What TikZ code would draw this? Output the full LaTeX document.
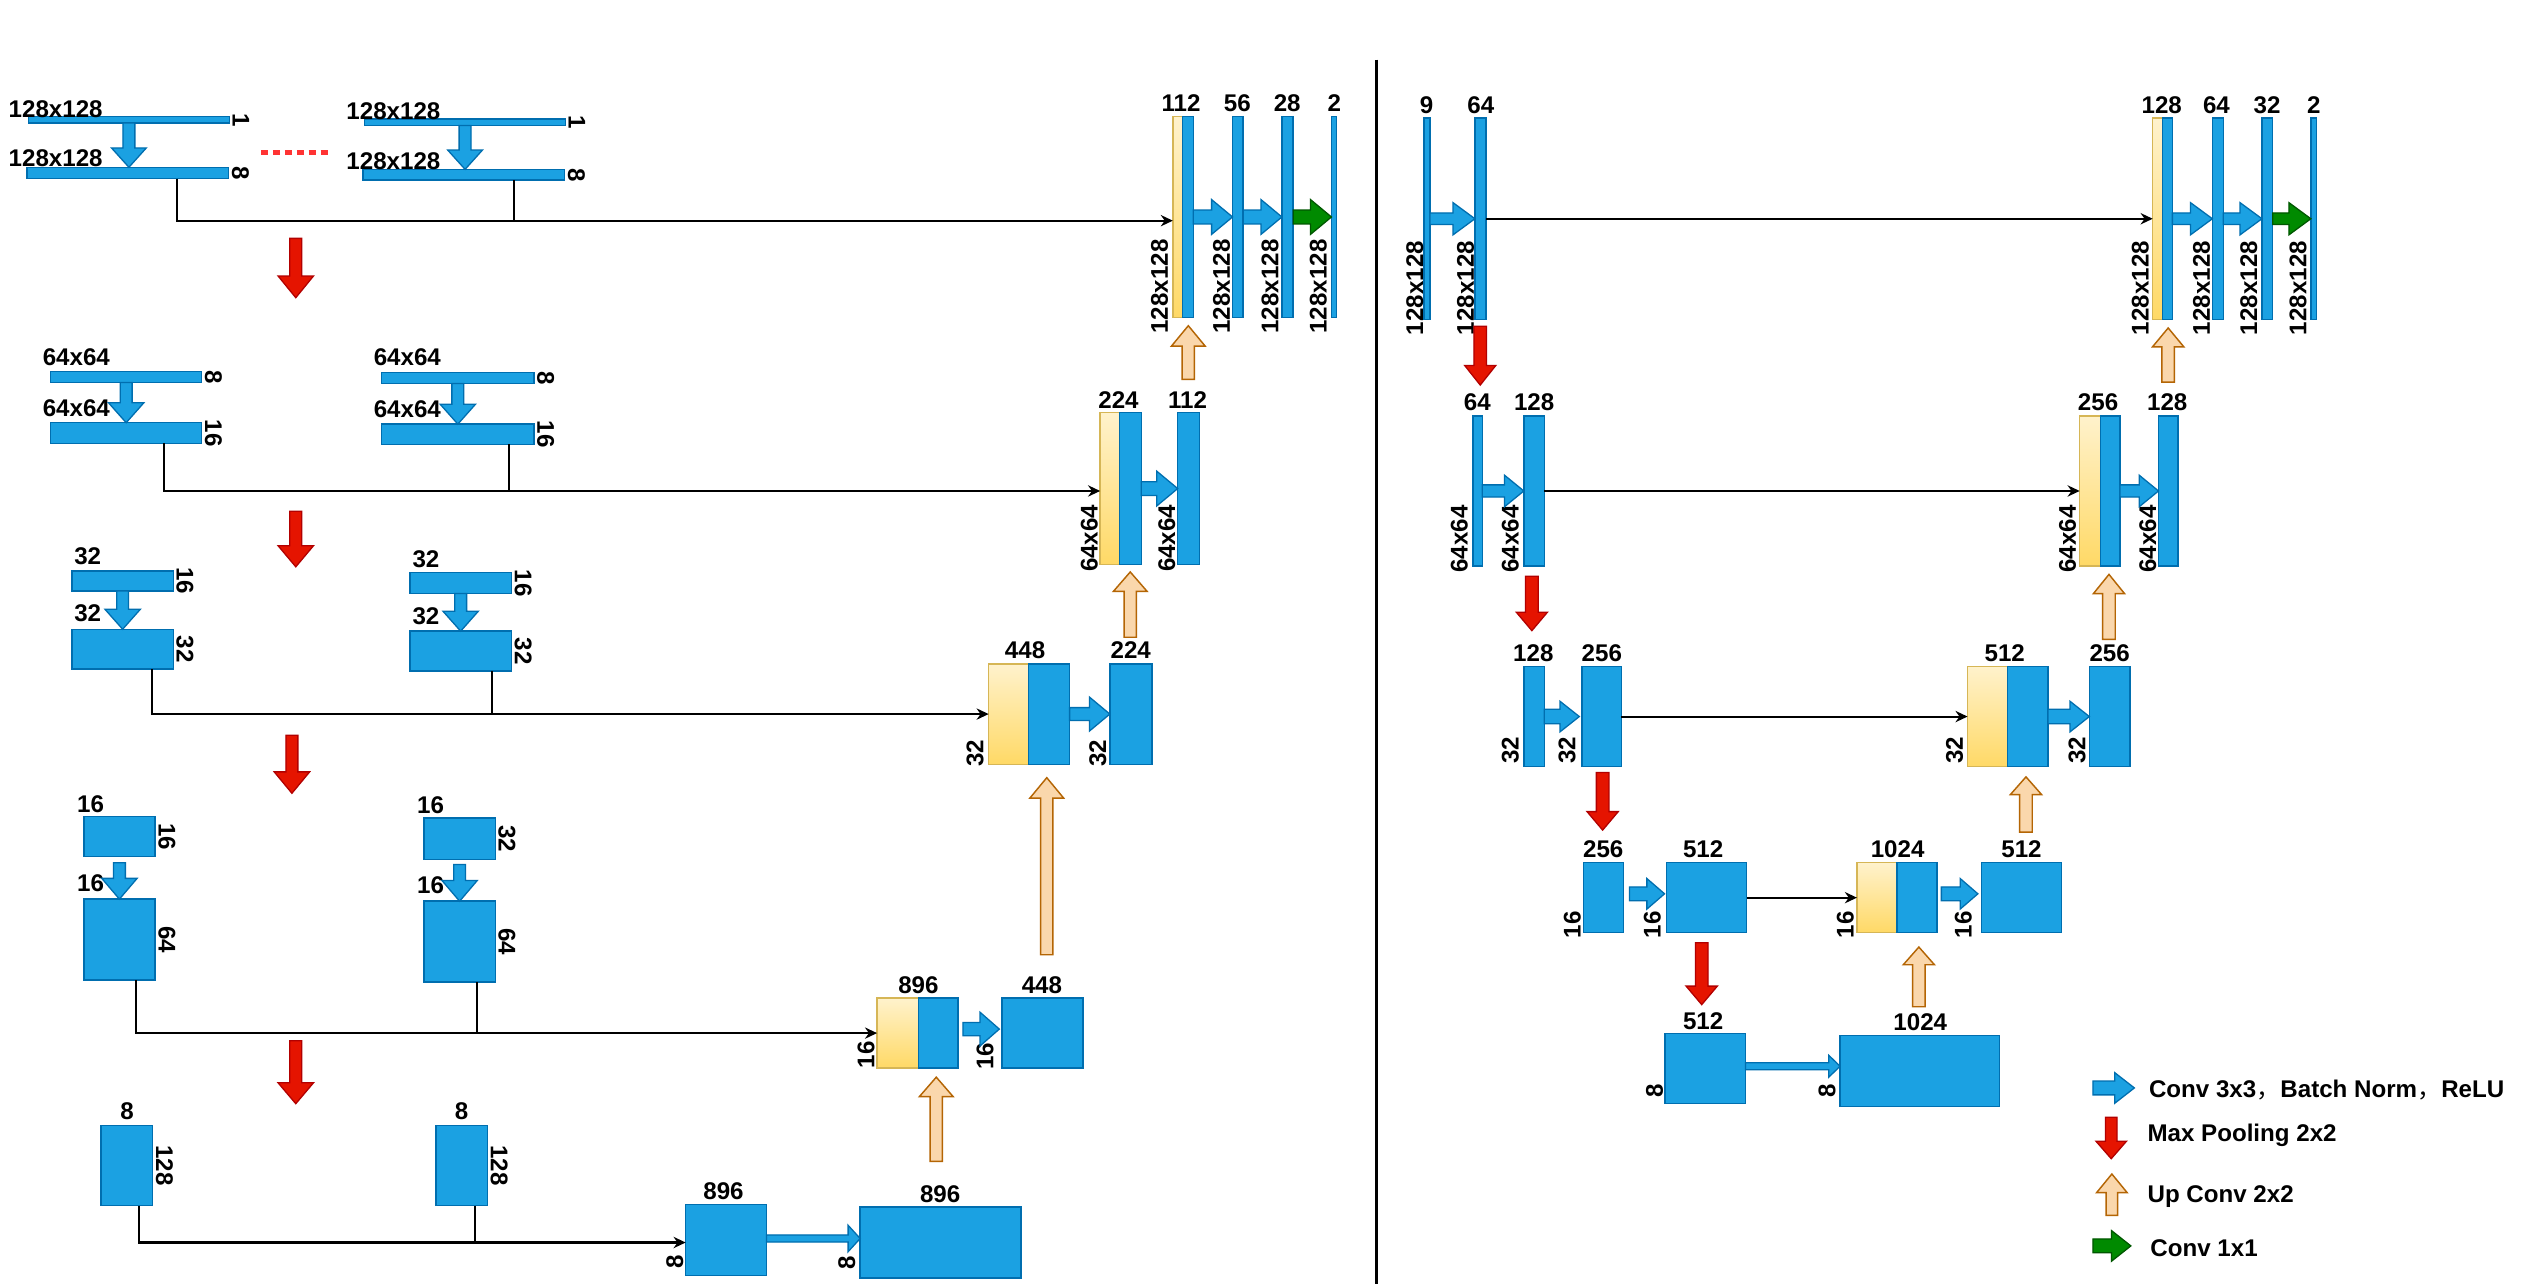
\documentclass[tikz,border=0pt]{standalone}
\usepackage{fontspec}
\setmainfont{Liberation Sans}
\newfontfamily\cjkf{Noto Sans CJK SC}
\usetikzlibrary{calc,arrows.meta}
\definecolor{bfill}{HTML}{1BA1E2}
\definecolor{bstroke}{HTML}{006EAF}
\definecolor{ytop}{HTML}{FFF2CC}
\definecolor{ybot}{HTML}{FFD966}
\definecolor{ystroke}{HTML}{D6B656}
\definecolor{rfill}{HTML}{E51400}
\definecolor{rstroke}{HTML}{B20000}
\definecolor{pfill}{HTML}{FAD7AC}
\definecolor{pstroke}{HTML}{B46504}
\definecolor{gfill}{HTML}{008A00}
\definecolor{gstroke}{HTML}{005700}
\definecolor{dotred}{HTML}{FF3333}
\newcommand\lf{\fontsize{15}{18}\selectfont\bfseries}
% box: [style]{x1}{y1}{x2}{y2}{name}
\newcommand\bx[6][blk]{\node[#1, anchor=north west, minimum width={(#4)-(#2)}, minimum height={(#5)-(#3)}] (#6) at (#2,#3) {};}
% horizontal block arrow: {style}{from}{to}{shaft half}{head half}{head length}
\newcommand\hblk[6]{\path[#1] let \p1=#2, \p2=#3 in
  (\x1,{\y1+#4pt}) -- ({\x2-#6pt},{\y1+#4pt}) -- ({\x2-#6pt},{\y1+#5pt}) -- (\x2,\y1)
  -- ({\x2-#6pt},{\y1-#5pt}) -- ({\x2-#6pt},{\y1-#4pt}) -- (\x1,{\y1-#4pt}) -- cycle;}
% downward block arrow
\newcommand\dblk[6]{\path[#1] let \p1=#2, \p2=#3 in
  ({\x1-#4pt},\y1) -- ({\x1+#4pt},\y1) -- ({\x1+#4pt},{\y2+#6pt}) -- ({\x1+#5pt},{\y2+#6pt})
  -- (\x1,\y2) -- ({\x1-#5pt},{\y2+#6pt}) -- ({\x1-#4pt},{\y2+#6pt}) -- cycle;}
% upward block arrow
\newcommand\ublk[6]{\path[#1] let \p1=#2, \p2=#3 in
  ({\x1-#4pt},\y1) -- ({\x1+#4pt},\y1) -- ({\x1+#4pt},{\y2-#6pt}) -- ({\x1+#5pt},{\y2-#6pt})
  -- (\x1,\y2) -- ({\x1-#5pt},{\y2-#6pt}) -- ({\x1-#4pt},{\y2-#6pt}) -- cycle;}
% labels
\newcommand\tl[4]{\node[lab, anchor=base] (#1) at (#2,#3) {#4};}
\newcommand\tw[4]{\node[lab, anchor=base west] (#1) at (#2,#3) {#4};}
\newcommand\rl[3]{\node[lab, rotate=-90, anchor=south] (#1) at ([xshift=2pt]#2.east) {#3};}
\newcommand\vl[4]{\node[lab, rotate=90, anchor=south west] (#1) at (#2,#3) {#4};}
\begin{document}
\begin{tikzpicture}[x=1pt,y=-1pt,
  every node/.style={inner sep=0pt,outer sep=0pt},
  lab/.style={font=\lf, text=black},
  blk/.style={draw=bstroke, fill=bfill, line width=0.9pt},
  cat/.style={draw=ystroke, top color=ytop, bottom color=ybot, line width=0.9pt},
  convA/.style={draw=bstroke, fill=bfill, line width=0.8pt},
  poolA/.style={draw=rstroke, fill=rfill, line width=0.8pt},
  upA/.style={draw=pstroke, fill=pfill, line width=0.9pt},
  oneA/.style={draw=gstroke, fill=gfill, line width=0.8pt},
  skiparr/.style={draw=black, line width=1.3pt, -{Stealth[length=7.5pt,width=7pt]}},
  skipln/.style={draw=black, line width=1.3pt}]
\fill[white] (0,0) rectangle (1568,798);
\useasboundingbox (0,0) rectangle (1568,798);

% ================= LEFT ENCODER =================
\bx{17.7}{72.5}{142.6}{76.5}{e1a}
\bx{16.7}{104}{142.1}{111}{e1b}
\bx{226.7}{74}{351.6}{78}{e1c}
\bx{225.7}{105.3}{351.1}{112}{e1d}
\bx{31.5}{231.1}{125.4}{237.8}{e2a}
\bx{31.5}{262.8}{125.4}{275.7}{e2b}
\bx{237.3}{231.5}{332}{238.4}{e2c}
\bx{237.3}{263.7}{332}{276.3}{e2d}
\bx{44.8}{354.9}{107.7}{367.5}{e3a}
\bx{44.8}{391.2}{107.7}{416}{e3b}
\bx{254.8}{356.1}{318}{369}{e3c}
\bx{254.8}{392.4}{318}{417.3}{e3d}
\bx{52.1}{507.6}{96.4}{532.6}{e4a}
\bx{52.1}{559}{96.4}{609.4}{e4b}
\bx{263.6}{508.7}{307.9}{534.2}{e4c}
\bx{263.6}{560.3}{307.9}{610.5}{e4d}
\bx{62.9}{699.8}{94.9}{749.6}{e5a}
\bx{271}{699.8}{303}{749.6}{e5b}

\tw{a1}{5.4}{73}{128x128}
\tw{a2}{5.4}{103.6}{128x128}
\tw{a3}{215.4}{74.2}{128x128}
\tw{a4}{215.4}{105.3}{128x128}
\tw{a5}{26.6}{227}{64x64}
\tw{a6}{26.6}{259.1}{64x64}
\tw{a7}{232.4}{227.4}{64x64}
\tw{a8}{232.4}{259.5}{64x64}
\tw{a9}{46.2}{351}{32}
\tw{a10}{46.2}{386.6}{32}
\tw{a11}{256.5}{352.8}{32}
\tw{a12}{256.5}{388}{32}
\tw{a13}{48}{505}{16}
\tw{a14}{48}{554.1}{16}
\tw{a15}{259.4}{505.8}{16}
\tw{a16}{259.4}{555.2}{16}
\tl{a17}{79}{696.2}{8}
\tl{a18}{287}{696.2}{8}

\rl{b1}{e1a}{1}
\rl{b2}{e1b}{8}
\rl{b3}{e1c}{1}
\rl{b4}{e1d}{8}
\rl{b5}{e2a}{8}
\rl{b6}{e2b}{16}
\rl{b7}{e2c}{8}
\rl{b8}{e2d}{16}
\rl{b9}{e3a}{16}
\rl{b10}{e3b}{32}
\rl{b11}{e3c}{16}
\rl{b12}{e3d}{32}
\rl{b13}{e4a}{16}
\rl{b14}{e4b}{64}
\rl{b15}{e4c}{32}
\rl{b16}{e4d}{64}
\rl{b17}{e5a}{128}
\rl{b18}{e5b}{128}

\dblk{convA}{(e1a.south)}{(e1b.north)}{3.7}{10.8}{12}
\dblk{convA}{(e1c.south)}{(e1d.north)}{3.7}{10.8}{12}
\dblk{convA}{(e2a.south)}{(e2b.north)}{3.7}{11}{12.4}
\dblk{convA}{(e2c.south)}{(e2d.north)}{3.7}{11}{12.4}
\dblk{convA}{(e3a.south)}{(e3b.north)}{3.7}{11}{12.4}
\dblk{convA}{(e3c.south)}{(e3d.north)}{3.7}{11}{12.4}
\dblk{convA}{([yshift=-3.8pt]e4a.south)}{(e4b.north)}{3.7}{11}{12.9}
\dblk{convA}{([yshift=-3.3pt]e4c.south)}{(e4d.north)}{3.7}{11}{12.9}

\coordinate (dotA) at (162.3,94.7);
\coordinate (dotB) at (206,94.7);
\draw[draw=dotred, line width=2.8pt, dash pattern=on 4.4pt off 3pt] (dotA) -- (dotB);

% pooling arrows (left)
\coordinate (p1t) at (183.9,148.2); \coordinate (p1h) at (183.9,185.1);
\coordinate (p2t) at (183.9,317.8); \coordinate (p2h) at (183.9,352.4);
\coordinate (p3t) at (181.5,457.1); \coordinate (p3h) at (181.5,493.2);
\coordinate (p4t) at (183.9,647.1); \coordinate (p4h) at (183.9,686.2);
\dblk{poolA}{(p1t)}{(p1h)}{3.7}{11}{13.5}
\dblk{poolA}{(p2t)}{(p2h)}{3.7}{11}{13.1}
\dblk{poolA}{(p3t)}{(p3h)}{3.7}{11}{13.3}
\dblk{poolA}{(p4t)}{(p4h)}{3.7}{11}{13}

% ================= LEFT DECODER =================
\bx[cat]{729.2}{72.5}{735.2}{197.3}{d1y}
\bx{735.2}{72.5}{741.9}{197.3}{d1b}
\bx{766.3}{72.5}{772.9}{197.3}{d1c}
\bx{797}{72.5}{804}{197.3}{d1d}
\bx{827.8}{72.5}{831.1}{197.3}{d1e}
\bx[cat]{684}{256.6}{696}{350.9}{d2y}
\bx{696}{256.6}{709.6}{350.9}{d2b}
\bx{732.2}{256.6}{745.8}{350.9}{d2c}
\bx[cat]{614.7}{412.7}{639.4}{475.2}{d3y}
\bx{639.4}{412.7}{665}{475.2}{d3b}
\bx{690}{412.7}{716.2}{475.2}{d3c}
\bx[cat]{545.3}{620.6}{571}{664}{d4y}
\bx{571}{620.6}{595.7}{664}{d4b}
\bx{623.1}{620.6}{673.4}{664}{d4c}
\bx{426.3}{749}{476.6}{793}{d5a}
\bx{534.8}{750.5}{634.9}{794.5}{d5b}

\tl{c1}{734.3}{69.4}{112}
\tl{c2}{769.3}{69.4}{56}
\tl{c3}{800.3}{69.4}{28}
\tl{c4}{829.6}{69.4}{2}
\tl{c5}{695.4}{254}{224}
\tl{c6}{738.3}{254}{112}
\tl{c7}{637.3}{409.6}{448}
\tl{c8}{703}{409.6}{224}
\tl{c9}{571}{617.4}{896}
\tl{c10}{647.8}{617.4}{448}
\tl{c11}{449.8}{745.9}{896}
\tl{c12}{584.5}{747.5}{896}

\vl{h1}{726.2}{207.3}{128x128}
\vl{h2}{764.8}{207.3}{128x128}
\vl{h3}{794.9}{207.3}{128x128}
\vl{h4}{825}{207.3}{128x128}
\vl{h5}{682.5}{355.6}{64x64}
\vl{h6}{730.7}{355.6}{64x64}
\vl{h7}{611.6}{476.8}{32}
\vl{h8}{687.9}{476.8}{32}
\vl{h9}{543.8}{664}{16}
\vl{h10}{617.7}{665}{16}
\vl{h11}{424.8}{788.7}{8}
\vl{h12}{531.8}{789}{8}

\hblk{convA}{(d1b.east)}{(d1c.west)}{4.3}{10.8}{13}
\hblk{convA}{(d1c.east)}{(d1d.west)}{4.3}{10.8}{13}
\hblk{oneA}{(d1d.east)}{(d1e.west)}{4.3}{10.8}{13}
\hblk{convA}{(d2b.east)}{(d2c.west)}{4.3}{10.8}{13}
\hblk{convA}{(d3b.east)}{(d3c.west)}{4}{10.6}{12.7}
\hblk{convA}{([xshift=3pt,yshift=2.5pt]d4b.east)}{([xshift=-1.8pt,yshift=2.5pt]d4c.west)}{4.1}{10.5}{12}
\hblk{convA}{([yshift=1pt]d5a.east)}{(d5b.west)}{2.2}{8.2}{7.5}

% up-conv arrows (left)
\coordinate (u1t) at (738.8,235.9); \coordinate (u1h) at (738.8,202.5);
\coordinate (u2t) at (702.7,396.2); \coordinate (u2h) at (702.7,355.6);
\coordinate (u3t) at (650.8,593.6); \coordinate (u3h) at (650.8,483.5);
\coordinate (u4t) at (582.1,722.1); \coordinate (u4h) at (582.1,669.7);
\ublk{upA}{(u1t)}{(u1h)}{3.8}{10.5}{12.7}
\ublk{upA}{(u2t)}{(u2h)}{3.8}{10.5}{12.1}
\ublk{upA}{(u3t)}{(u3h)}{3.8}{10.5}{12.7}
\ublk{upA}{(u4t)}{(u4h)}{3.8}{10.5}{12.1}

% skip connections (left)
\coordinate (s1a) at (110.2,111);   \coordinate (s1b) at (319.7,112);
\coordinate (s2a) at (102,275.7);   \coordinate (s2b) at (316.5,276.3);
\coordinate (s3a) at (94.7,416);    \coordinate (s3b) at (305.7,417.3);
\coordinate (s4a) at (84.8,609.4);  \coordinate (s4b) at (296.8,610.5);
\coordinate (s5a) at (86.6,749.6);  \coordinate (s5b) at (295.1,749.6);
\coordinate (k1) at ([yshift=-2.3pt]d1y.west);
\coordinate (k2) at ([yshift=-1.5pt]d2y.west);
\coordinate (k3) at (d3y.west);
\coordinate (k4) at (d4y.west);
\coordinate (k5) at ([yshift=-1.5pt]d5a.west);
\draw[skiparr] (s1a) |- (k1);  \draw[skipln] (s1b) -- (s1b |- k1);
\draw[skiparr] (s2a) |- (k2);  \draw[skipln] (s2b) -- (s2b |- k2);
\draw[skiparr] (s3a) |- (k3);  \draw[skipln] (s3b) -- (s3b |- k3);
\draw[skiparr] (s4a) |- (k4);  \draw[skipln] (s4b) -- (s4b |- k4);
\draw[skiparr] (s5a) |- (k5);  \draw[skipln] (s5b) -- (s5b |- k5);

% divider
\coordinate (dvt) at (855.8,37);
\coordinate (dvb) at (855.8,798);
\draw[line width=1.8pt] (dvt) -- (dvb);

% ================= RIGHT PANEL =================
\bx{885.4}{73.5}{889}{198.5}{f1a}
\bx{917}{73.5}{923.9}{198.5}{f1b}
\bx[cat]{1338.4}{73.5}{1344.3}{198.5}{g1y}
\bx{1344.3}{73.5}{1350.6}{198.5}{g1b}
\bx{1375.5}{73.5}{1382.3}{198.5}{g1c}
\bx{1406.3}{73.5}{1413}{198.5}{g1d}
\bx{1436.7}{73.5}{1440.3}{198.5}{g1e}
\bx{915.7}{258.5}{921.6}{352}{f2a}
\bx{947.4}{258.5}{960.1}{352}{f2b}
\bx[cat]{1293}{258.5}{1305.8}{352}{g2y}
\bx{1305.8}{258.5}{1318}{352}{g2b}
\bx{1342}{258.5}{1354.2}{352}{g2c}
\bx{947.4}{414.3}{960.1}{476.7}{f3a}
\bx{983.7}{414.3}{1008.1}{476.7}{f3b}
\bx[cat]{1223.3}{414.3}{1248.2}{476.7}{g3y}
\bx{1248.2}{414.3}{1273.2}{476.7}{g3b}
\bx{1299}{414.3}{1324.3}{476.7}{g3c}
\bx{984.6}{536.4}{1009.5}{579.8}{f4a}
\bx{1036.2}{536.4}{1086}{579.8}{f4b}
\bx[cat]{1154.5}{536.4}{1179.4}{579.8}{g4y}
\bx{1179.4}{536.4}{1204.3}{579.8}{g4b}
\bx{1232}{536.4}{1281.8}{579.8}{g4c}
\bx{1035.3}{642.5}{1085.2}{685.9}{f5a}
\bx{1144}{643.9}{1243.3}{687.8}{f5b}

\tl{m1}{887}{70.6}{9}
\tl{m2}{920.7}{70.6}{64}
\tl{m3}{1344}{70.6}{128}
\tl{m4}{1378}{70.6}{64}
\tl{m5}{1409.5}{70.6}{32}
\tl{m6}{1438.5}{70.6}{2}
\tl{m7}{918.5}{255}{64}
\tl{m8}{953.8}{255}{128}
\tl{m9}{1304.4}{255}{256}
\tl{m10}{1347.4}{255}{128}
\tl{m11}{953.3}{411}{128}
\tl{m12}{995.9}{411}{256}
\tl{m13}{1246.4}{411}{512}
\tl{m14}{1311.6}{411}{256}
\tl{m15}{996.8}{533.2}{256}
\tl{m16}{1058.9}{533.2}{512}
\tl{m17}{1179.8}{533.2}{1024}
\tl{m18}{1256.8}{533.2}{512}
\tl{m19}{1058.9}{640.3}{512}
\tl{m20}{1193.9}{640.7}{1024}

\vl{n1}{885}{208.3}{128x128}
\vl{n2}{916.5}{208.3}{128x128}
\vl{n3}{1336}{208.3}{128x128}
\vl{n4}{1374}{208.3}{128x128}
\vl{n5}{1403.5}{208.3}{128x128}
\vl{n6}{1434}{208.3}{128x128}
\vl{n7}{912.6}{356}{64x64}
\vl{n8}{944.3}{356}{64x64}
\vl{n9}{1290.8}{356}{64x64}
\vl{n10}{1340.6}{356}{64x64}
\vl{n11}{944.3}{474.8}{32}
\vl{n12}{979.6}{474.8}{32}
\vl{n13}{1220.6}{474.8}{32}
\vl{n14}{1296.7}{474.8}{32}
\vl{n15}{982.8}{583.4}{16}
\vl{n16}{1032.6}{583.4}{16}
\vl{n17}{1152.6}{583.4}{16}
\vl{n18}{1226}{583.4}{16}
\vl{n19}{1034}{682.4}{8}
\vl{n20}{1141.3}{682.4}{8}

\hblk{convA}{(f1a.east)}{(f1b.west)}{3.6}{10}{13.6}
\draw[skiparr] (f1b.east) -- (g1y.west);
\hblk{convA}{(g1b.east)}{(g1c.west)}{3.6}{10}{13.6}
\hblk{convA}{(g1c.east)}{(g1d.west)}{3.6}{10}{13.6}
\hblk{oneA}{(g1d.east)}{(g1e.west)}{3.6}{10}{13.6}
\hblk{convA}{(f2a.east)}{(f2b.west)}{3.8}{9.8}{12}
\draw[skiparr] (f2b.east) -- (g2y.west);
\hblk{convA}{(g2b.east)}{(g2c.west)}{3.8}{9.8}{12}
\hblk{convA}{(f3a.east)}{([xshift=-1.8pt]f3b.west)}{4.5}{9.5}{12}
\draw[skiparr] (f3b.east) -- (g3y.west);
\hblk{convA}{(g3b.east)}{(g3c.west)}{4.5}{9.5}{12}
\hblk{convA}{([xshift=3.6pt,yshift=2.4pt]f4a.east)}{([xshift=-1.3pt,yshift=2.4pt]f4b.west)}{4.3}{9.5}{11}
\draw[skiparr] (f4b.east) -- (g4y.west);
\hblk{convA}{([xshift=2.7pt,yshift=2.4pt]g4b.east)}{([xshift=-2.3pt,yshift=2.4pt]g4c.west)}{4.3}{9.5}{11}
\hblk{convA}{([yshift=1.3pt]f5a.east)}{(f5b.west)}{2.2}{6.8}{7}

\coordinate (q1t) at (920.3,202.8);  \coordinate (q1h) at (920.3,239.4);
\coordinate (q2t) at (952.4,358.2);  \coordinate (q2h) at (952.4,392.1);
\coordinate (q3t) at (996.4,480.3);  \coordinate (q3h) at (996.4,516.1);
\coordinate (q4t) at (1058,586.1);   \coordinate (q4h) at (1058,624.6);
\dblk{poolA}{(q1t)}{(q1h)}{3.9}{9.7}{12.2}
\dblk{poolA}{(q2t)}{(q2h)}{3.9}{9.7}{11.5}
\dblk{poolA}{(q3t)}{(q3h)}{3.9}{9.7}{11.5}
\dblk{poolA}{(q4t)}{(q4h)}{3.9}{9.7}{11.5}

\coordinate (v1t) at (1348,237.6);   \coordinate (v1h) at (1348,203.9);
\coordinate (v2t) at (1311.2,397.5); \coordinate (v2h) at (1311.2,357.1);
\coordinate (v3t) at (1259.6,517.4); \coordinate (v3h) at (1259.6,483);
\coordinate (v4t) at (1193,625.9);   \coordinate (v4h) at (1193,588.8);
\ublk{upA}{(v1t)}{(v1h)}{3.9}{9.7}{11.7}
\ublk{upA}{(v2t)}{(v2h)}{3.9}{9.7}{12}
\ublk{upA}{(v3t)}{(v3h)}{3.9}{9.7}{11}
\ublk{upA}{(v4t)}{(v4h)}{3.9}{9.7}{11}

% ================= LEGEND =================
\coordinate (lg1a) at (1301.2,676.4); \coordinate (lg1b) at (1327,676.4);
\coordinate (lg2a) at (1312.6,694.6); \coordinate (lg2b) at (1312.6,720.4);
\coordinate (lg3a) at (1313,755.6);   \coordinate (lg3b) at (1313,729.9);
\coordinate (lg4a) at (1301.2,774.6); \coordinate (lg4b) at (1324.8,774.6);
\hblk{convA}{(lg1a)}{(lg1b)}{4.3}{9.5}{12.2}
\dblk{poolA}{(lg2a)}{(lg2b)}{3.6}{9.5}{10.9}
\ublk{upA}{(lg3a)}{(lg3b)}{3.6}{9.5}{11.6}
\hblk{oneA}{(lg4a)}{(lg4b)}{4.3}{9.5}{12}
\tw{lt1}{1336.1}{682.4}{Conv 3x3{\cjkf\mdseries ，}Batch Norm{\cjkf\mdseries ，}ReLU}
\tw{lt2}{1335.2}{709.5}{Max Pooling 2x2}
\tw{lt3}{1335.2}{747.4}{Up Conv 2x2}
\tw{lt4}{1337}{781.4}{Conv 1x1}
\end{tikzpicture}
\end{document}
